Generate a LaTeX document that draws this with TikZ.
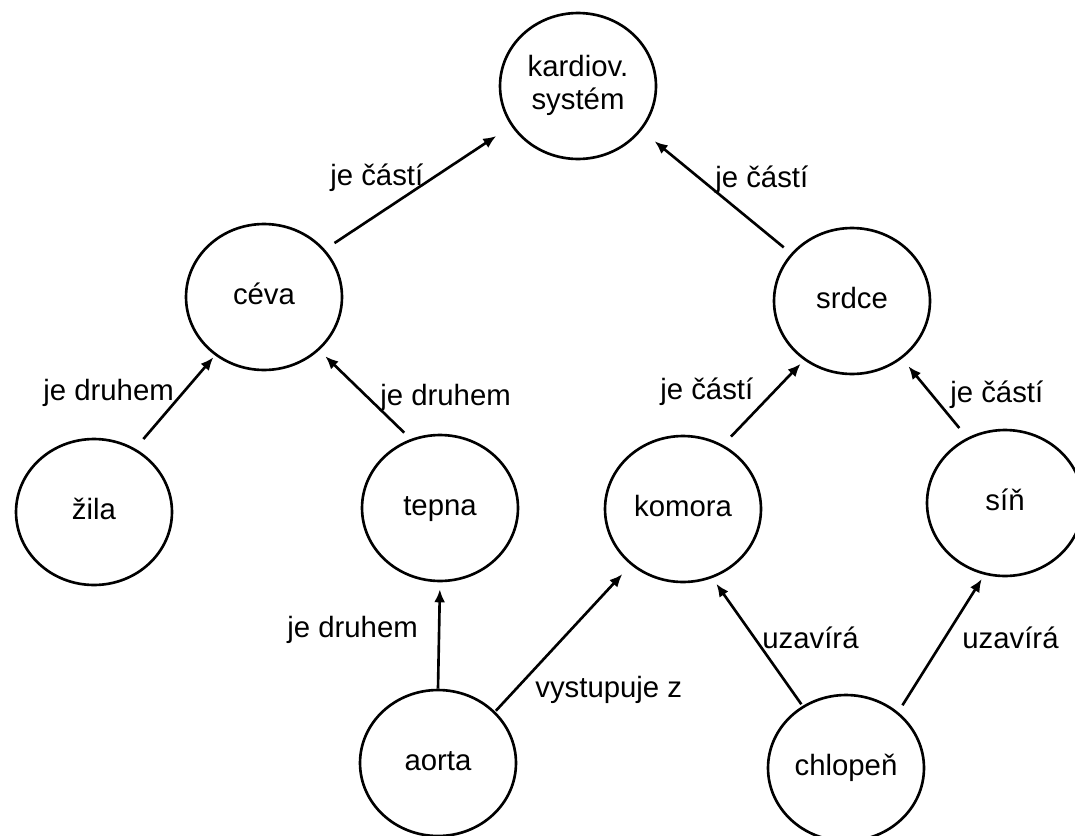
\documentclass[tikz,border=0pt]{standalone}
\usepackage{fontspec}
\setmainfont{Liberation Sans}
\usetikzlibrary{arrows.meta,shapes.geometric}

\begin{document}
\begin{tikzpicture}[x=0.02cm,y=-0.02cm,
  pojem/.style={draw,line width=1.5pt,ellipse,minimum width=3.12cm,minimum height=2.92cm,
     inner sep=0pt,align=center,font=\fontsize{16.7}{19}\selectfont,
     execute at begin node={\rule[-4pt]{0pt}{16pt}}},
  vztah/.style={anchor=west,inner sep=0pt,font=\fontsize{16.7}{19}\selectfont},
  sip/.style={line width=1.5pt,-{Latex[length=2.6mm,width=2.2mm]}}]
\useasboundingbox (0,0) rectangle (1075,835);
% pojmy
\node[pojem] (kardio) at (578,86) {kardiov.\\systém};
\node[pojem] (ceva) at (264,297) {céva};
\node[pojem] (srdce) at (852,301) {srdce};
\node[pojem] (zila) at (94,512) {žila};
\node[pojem] (tepna) at (440,508) {tepna};
\node[pojem] (komora) at (683,509) {komora};
\node[pojem] (sin) at (1005,503) {síň};
\node[pojem] (aorta) at (438,763) {aorta};
\node[pojem] (chlopen) at (846,768) {chlopeň};
% vazby
\draw[sip,shorten <=0.23cm,shorten >=0.36cm] (ceva.38) -- (kardio.211);
\draw[sip,shorten <=0.19cm,shorten >=0.34cm] (srdce.142) -- (kardio.325);
\draw[sip,shorten <=0.25cm,shorten >=0.05cm] (zila.57) -- (ceva.230);
\draw[sip,shorten <=0.18cm,shorten >=0.17cm] (tepna.113) -- (ceva.316);
\draw[sip,shorten >=0.14cm] (aorta.90) -- (tepna.270);
\draw[sip,shorten <=0.02cm,shorten >=0.25cm] (aorta.42) -- (komora.227);
\draw[sip,shorten <=0.23cm,shorten >=0.1cm] (komora.58) -- (srdce.231);
\draw[sip,shorten <=0.25cm,shorten >=0.2cm] (sin.120) -- (srdce.311);
\draw[sip,shorten <=0.04cm,shorten >=0.14cm] (chlopen.125) -- (komora.293);
\draw[sip,shorten <=0.16cm,shorten >=0.1cm] (chlopen.47) -- (sin.254);
% popisky vazeb
\node[vztah] (v1) at (330,178) {je částí};
\node[vztah] (v2) at (715,180) {je částí};
\node[vztah] (v3) at (43,393) {je druhem};
\node[vztah] (v4) at (380,398) {je druhem};
\node[vztah] (v5) at (660,392) {je částí};
\node[vztah] (v6) at (950,395) {je částí};
\node[vztah] (v7) at (287,630) {je druhem};
\node[vztah] (v8) at (535,690) {vystupuje z};
\node[vztah] (v9) at (762,638) {uzavírá};
\node[vztah] (v10) at (962,638) {uzavírá};
\end{tikzpicture}
\end{document}
